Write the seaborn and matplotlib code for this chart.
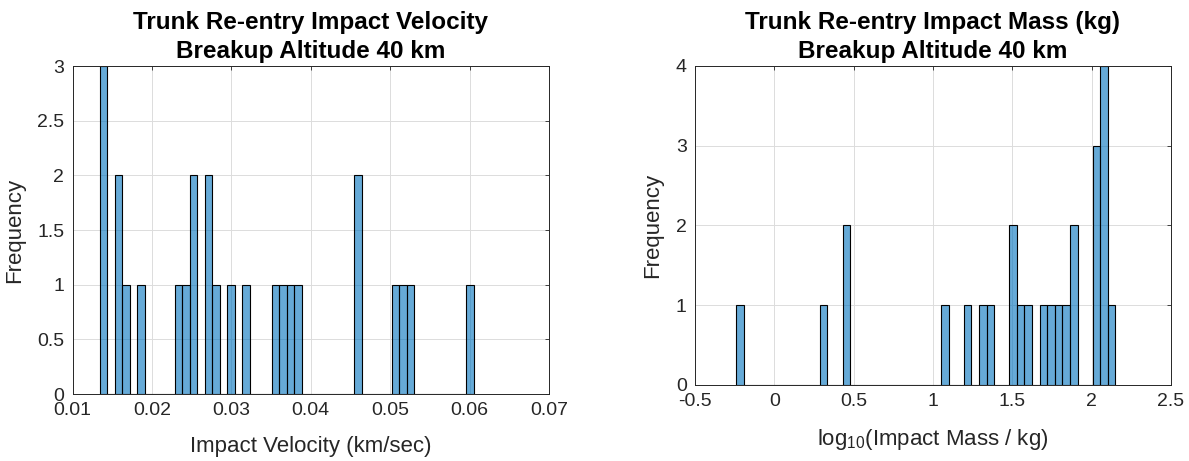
import numpy as np
import pandas as pd
import matplotlib
matplotlib.use("Agg")
import matplotlib.pyplot as plt
import seaborn as sns

# Impact velocity samples (km/sec), 26 trunk fragments
velocity = [0.01344, 0.0139, 0.0140, 0.0157, 0.0159, 0.0167, 0.0186,
            0.0233, 0.0243, 0.0251, 0.0253, 0.0270, 0.0272, 0.0280,
            0.0299, 0.0318, 0.0356, 0.0365, 0.0375, 0.0384,
            0.0458, 0.0460, 0.0507, 0.0516, 0.0525, 0.06054]

# log10 of impact mass (kg), same 26 fragments
log_mass = [-0.2384, 0.311, 0.450, 0.458, 1.075, 1.218, 1.314, 1.362,
            1.500, 1.510, 1.553, 1.600, 1.696, 1.744, 1.791, 1.839,
            1.880, 1.893, 2.025, 2.030, 2.035, 2.070, 2.075, 2.080,
            2.085, 2.150]

n_bins = 50
vel_xticks = [0.01, 0.02, 0.03, 0.04, 0.05, 0.06, 0.07]
vel_yticks = [0, 0.5, 1, 1.5, 2, 2.5, 3]
mass_xticks = [-0.5, 0, 0.5, 1, 1.5, 2, 2.5]
mass_yticks = [0, 1, 2, 3, 4]

sns.set_style("white")
plt.rcParams["font.family"] = ["Liberation Sans", "DejaVu Sans"]
plt.rcParams["mathtext.default"] = "regular"

fig = plt.figure(figsize=(11.89, 4.61), dpi=100)
ax1 = fig.add_axes([0.0611, 0.1453, 0.4006, 0.7115])
ax2 = fig.add_axes([0.5845, 0.1649, 0.4003, 0.6920])

bar_kw = dict(bins=n_bins, color="#0072BD", alpha=0.6, edgecolor="black",
              linewidth=0.8, stat="count")

df_v = pd.DataFrame({"v": velocity})
df_m = pd.DataFrame({"m": log_mass})
sns.histplot(data=df_v, x="v", ax=ax1, **bar_kw)
sns.histplot(data=df_m, x="m", ax=ax2, **bar_kw)

spine_c = "#262626"
for ax in (ax1, ax2):
    ax.set_axisbelow(True)
    ax.grid(True, color="#dcdcdc", linewidth=0.7)
    for s in ax.spines.values():
        s.set_color(spine_c)
        s.set_linewidth(0.7)
        s.set_visible(True)
    ax.tick_params(direction="in", length=3, width=0.6, colors=spine_c,
                   labelcolor="#262626", labelsize=14, top=True, right=True,
                   pad=6)
    ax.set_ylabel("Frequency", fontsize=16, color="#262626", labelpad=9)

title_kw = dict(fontsize=17.5, fontweight="bold", pad=6, linespacing=1.3,
                color="black")

ax1.set_xlim(0.01, 0.07)
ax1.set_ylim(0, 3)
ax1.set_xticks(vel_xticks)
ax1.set_xticklabels([f"{t:g}" for t in vel_xticks])
ax1.set_yticks(vel_yticks)
ax1.set_yticklabels([f"{t:g}" for t in vel_yticks])
ax1.set_xlabel("Impact Velocity (km/sec)", fontsize=16, color="#262626",
               labelpad=12)
ax1.set_title("Trunk Re-entry Impact Velocity\nBreakup Altitude 40 km",
              **title_kw)

ax2.set_xlim(-0.5, 2.5)
ax2.set_ylim(0, 4)
ax2.set_xticks(mass_xticks)
ax2.set_xticklabels([f"{t:g}" for t in mass_xticks])
ax2.set_yticks(mass_yticks)
ax2.set_yticklabels([f"{t:g}" for t in mass_yticks])
ax2.set_xlabel(r"log$_{10}$(Impact Mass / kg)", fontsize=16, color="#262626",
               labelpad=12)
ax2.set_title("Trunk Re-entry Impact Mass (kg)\nBreakup Altitude 40 km",
              **title_kw)

fig.savefig("out.png", dpi=100, facecolor="white")
